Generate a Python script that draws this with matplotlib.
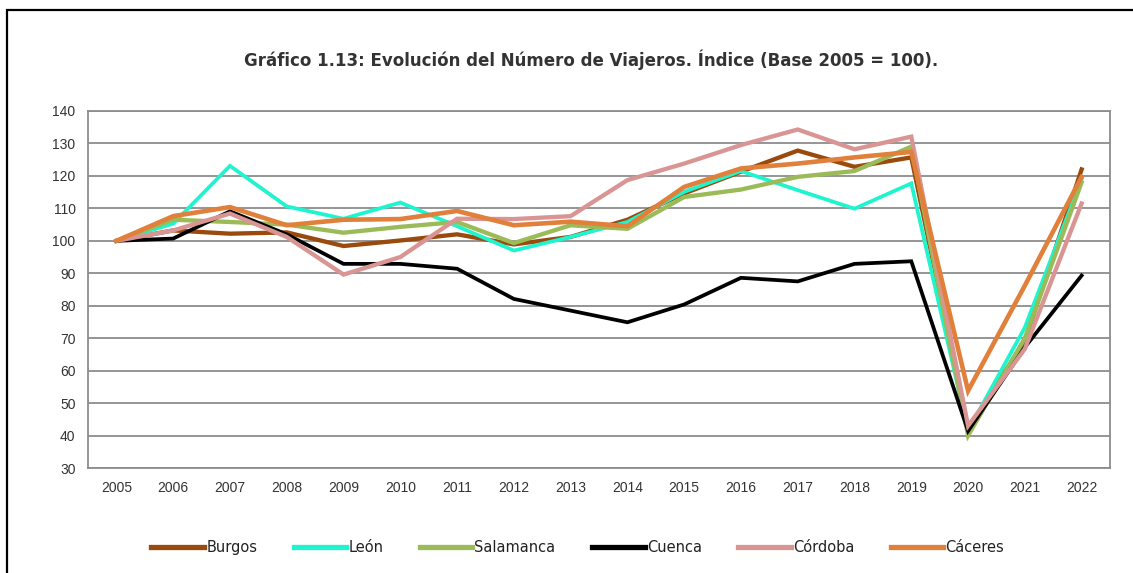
import matplotlib.pyplot as plt
from matplotlib.patches import Rectangle

years = list(range(2005, 2023))

burgos    = [100, 103.2, 102.2, 102.6, 98.4, 100.1, 102.0, 98.9, 101.2, 106.5, 114.6, 121.3, 127.8, 122.8, 125.7, 42.0, 69.2, 122.0]
leon      = [100, 105.3, 123.1, 110.6, 106.8, 111.8, 104.5, 97.0, 101.2, 105.8, 115.1, 121.5, 115.6, 109.9, 117.7, 41.5, 73.3, 119.0]
salamanca = [100, 106.5, 105.8, 105.0, 102.5, 104.3, 105.8, 99.3, 104.8, 103.7, 113.5, 115.8, 119.7, 121.5, 129.0, 40.0, 70.0, 118.0]
cuenca    = [100, 100.7, 109.1, 102.0, 92.9, 92.9, 91.4, 82.1, 78.5, 74.9, 80.4, 88.6, 87.5, 92.9, 93.7, 41.4, 67.2, 89.3]
cordoba   = [100, 103.2, 108.4, 101.2, 89.6, 95.0, 106.8, 106.7, 107.6, 118.7, 123.8, 129.5, 134.3, 128.2, 132.1, 43.0, 66.7, 111.5]
caceres   = [100, 107.6, 110.4, 104.8, 106.5, 106.7, 109.2, 104.8, 105.9, 104.5, 116.6, 122.3, 123.8, 125.7, 127.4, 53.8, 86.2, 119.7]

names  = ['Burgos', 'León', 'Salamanca', 'Cuenca', 'Córdoba', 'Cáceres']
series = [burgos, leon, salamanca, cuenca, cordoba, caceres]
colors = ['#9a4a0c', '#1ef5cf', '#9bbb59', '#000000', '#d99594', '#e0803a']
widths = [3.1, 2.7, 3.1, 2.7, 3.1, 3.3]

fig = plt.figure(figsize=(11.33, 5.73), dpi=100)
ax = fig.add_axes([0.0777, 0.1832, 0.902, 0.6231])

# outer frame (cut off at right/bottom like the source)
fig.patches.append(Rectangle((7/1133, -0.05), 1.2, 1 - 10/573 + 0.05, transform=fig.transFigure,
                             fill=False, edgecolor='black', linewidth=1.6))

for vals, name, c, w in zip(series, names, colors, widths):
    ax.plot(years, vals, color=c, linewidth=w, label=name, solid_joinstyle='miter', zorder=3)

ax.set_xlim(2004.5, 2022.5)
ax.set_ylim(30, 140)
ax.set_yticks(range(30, 141, 10))
ax.set_xticks(years)
ax.grid(axis='y', color='#8c8c8c', linewidth=1.3, zorder=1)
for s in ax.spines.values():
    s.set_color('#8c8c8c')
    s.set_linewidth(1.3)
ax.tick_params(length=0, labelsize=10, colors='#333333', pad=9)
for lab in ax.get_xticklabels() + ax.get_yticklabels():
    lab.set_family('Liberation Sans')

fig.text(0.522, 0.895, 'Gráfico 1.13: Evolución del Número de Viajeros. Índice (Base 2005 = 100).',
         ha='center', va='center', fontsize=12, fontweight='bold', color='#333333')

leg = fig.legend(loc='center', bbox_to_anchor=(0.51, 0.044), ncol=6, frameon=False,
                 handlelength=3.6, handletextpad=0.15, columnspacing=2.5,
                 prop={'family': 'DejaVu Sans', 'size': 10.5})
for line in leg.get_lines():
    line.set_linewidth(3.8)
for t in leg.get_texts():
    t.set_color('#222222')

fig.savefig('out.png', dpi=100)
